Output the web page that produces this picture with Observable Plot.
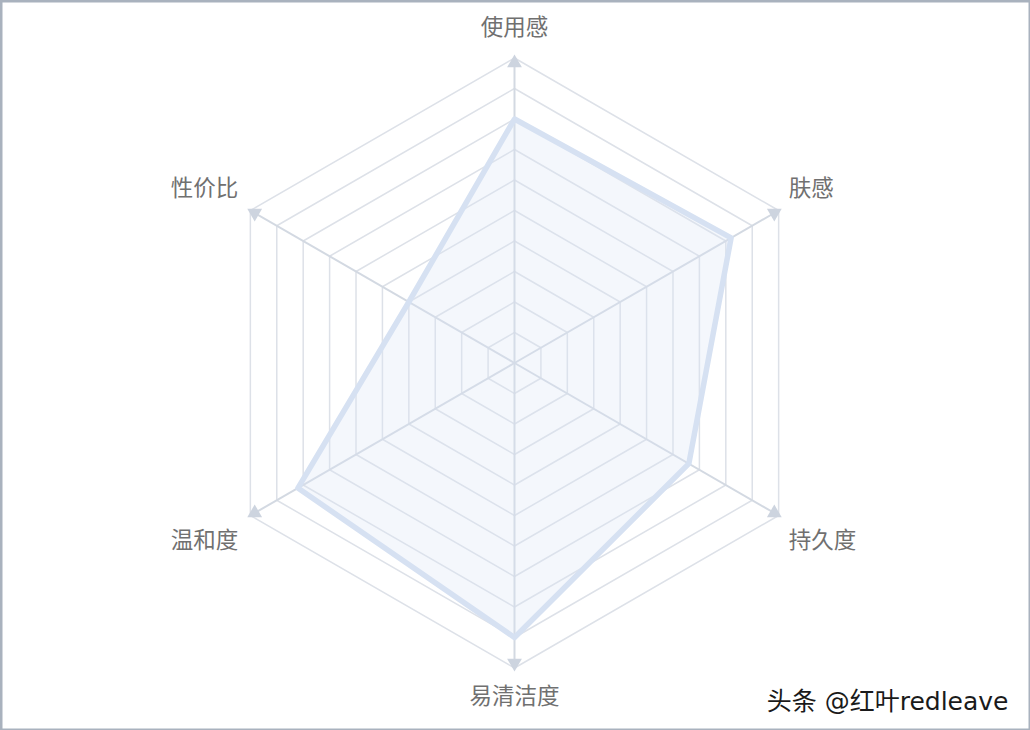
<!DOCTYPE html>
<html>
<head>
<meta charset="utf-8">
<script src="https://cdn.jsdelivr.net/npm/d3@7"></script>
<script src="https://cdn.jsdelivr.net/npm/@observablehq/plot@0.6"></script>
<style>
  html, body { margin: 0; padding: 0; background: #fff; }
  #chart svg { display: block; }
</style>
</head>
<body>
<div id="chart"></div>
<script>
// ---- data ----
const axisNames = ["使用感", "肤感", "持久度", "易清洁度", "温和度", "性价比"];
const scores = [8, 8.2, 6.6, 9, 8.2, 4];
const maxScore = 10;
const ringLevels = [1, 2, 3, 4, 5, 6, 7, 8, 9, 10];
const watermark = "头条 @红叶redleave";

// ---- layout ----
const W = 1030, H = 730;
const cx = 514, cy = 362.5, radiusPx = 305;
const unit = radiusPx / maxScore; // px per score unit
const arrowInsetPx = 5;

const angleOf = i => (90 - i * 60) * Math.PI / 180;
const polar = (i, r) => ({x: r * Math.cos(angleOf(i)), y: r * Math.sin(angleOf(i))});

const rings = ringLevels.flatMap(level =>
  axisNames.map((name, i) => ({level, ...polar(i, level)})));
const spokes = axisNames.map((name, i) => {
  const p = polar(i, maxScore);
  return {name, i, x1: 0, y1: 0, x2: p.x, y2: p.y};
});
const vertices = axisNames.map((name, i) => ({name, i, ...polar(i, maxScore)}));
const tips = axisNames.map((name, i) => ({name, i, rotate: i * 60, ...polar(i, maxScore - arrowInsetPx / unit)}));
const series = axisNames.map((name, i) => ({name, value: scores[i], ...polar(i, scores[i])}));

const labelFont = "'Noto Sans CJK SC', 'Noto Sans', sans-serif";
const labelColor = "#707070";
const fs = 22.5;

const plot = Plot.plot({
  width: W,
  height: H,
  margin: 0,
  x: {domain: [-cx / unit, (W - cx) / unit], range: [0, W], axis: null},
  y: {domain: [-(H - cy) / unit, cy / unit], range: [H, 0], axis: null},
  marks: [
    // grid rings
    Plot.line(rings, {x: "x", y: "y", z: "level", curve: "linear-closed", stroke: "#dde1e8", strokeWidth: 1.5}),
    // spokes
    Plot.link(spokes, {x1: "x1", y1: "y1", x2: "x2", y2: "y2", stroke: "#d3d9e2", strokeWidth: 2}),
    // arrow heads
    Plot.dot(tips, {x: "x", y: "y", symbol: "triangle", rotate: "rotate", r: 5.5, fill: "#cdd4df", stroke: "none"}),
    // data area
    Plot.line(series, {x: "x", y: "y", curve: "linear-closed", fill: "#dbe5f4", fillOpacity: 0.3, stroke: "#d6e1f2", strokeWidth: 5.5, strokeLinejoin: "round"}),
    // labels
    Plot.text(vertices.filter(d => d.i === 0), {x: "x", y: "y", text: "name", dy: -30, fontSize: fs, fill: labelColor, fontFamily: labelFont}),
    Plot.text(vertices.filter(d => d.i === 3), {x: "x", y: "y", text: "name", dy: 29, fontSize: fs, fill: labelColor, fontFamily: labelFont}),
    Plot.text(vertices.filter(d => d.i === 1), {x: "x", y: "y", text: "name", dx: 10, dy: -22, textAnchor: "start", fontSize: fs, fill: labelColor, fontFamily: labelFont}),
    Plot.text(vertices.filter(d => d.i === 2), {x: "x", y: "y", text: "name", dx: 10, dy: 25, textAnchor: "start", fontSize: fs, fill: labelColor, fontFamily: labelFont}),
    Plot.text(vertices.filter(d => d.i === 5), {x: "x", y: "y", text: "name", dx: -12, dy: -22, textAnchor: "end", fontSize: fs, fill: labelColor, fontFamily: labelFont}),
    Plot.text(vertices.filter(d => d.i === 4), {x: "x", y: "y", text: "name", dx: -12, dy: 25, textAnchor: "end", fontSize: fs, fill: labelColor, fontFamily: labelFont}),
    // watermark
    Plot.text([watermark], {frameAnchor: "bottom-right", text: d => d, dx: -22, dy: -21, textAnchor: "end", fontSize: 25, fill: "#1a1a1a", stroke: "#fff", strokeWidth: 3, paintOrder: "stroke", fontFamily: "'DejaVu Sans', 'Noto Sans CJK SC', sans-serif"}),
    // border
    Plot.frame({stroke: "#a9b2be", strokeWidth: 4})
  ]
});
document.getElementById("chart").appendChild(plot);
</script>
</body>
</html>
